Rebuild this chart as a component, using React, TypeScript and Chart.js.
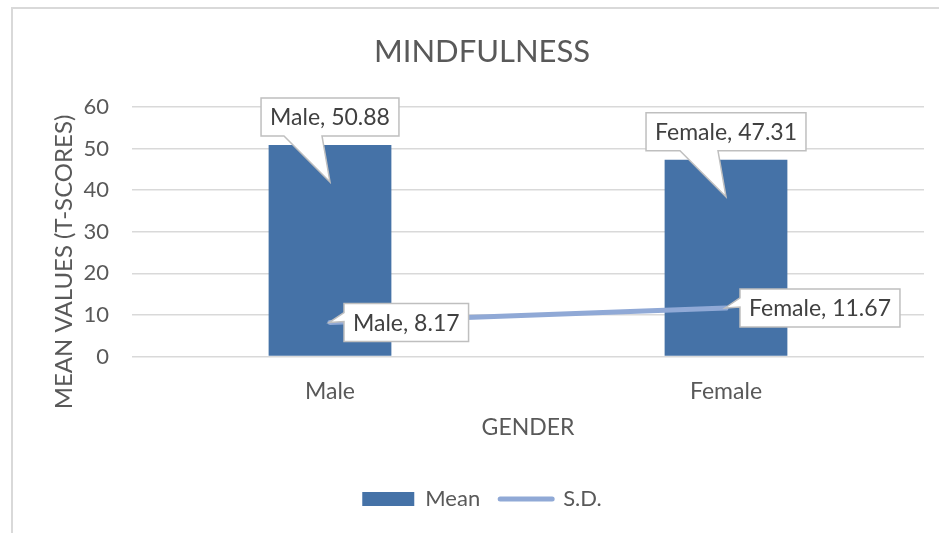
import React, { useEffect, useRef } from "react";
import { Chart, registerables } from "chart.js";

Chart.register(...registerables);

const chartTitle = "MINDFULNESS";
const xAxisTitle = "GENDER";
const yAxisTitle = "MEAN VALUES (T-SCORES)";
const categories = ["Male", "Female"];
const seriesNames = ["Mean", "S.D."];
const meanValues = [50.88, 47.31];
const sdValues = [8.17, 11.67];
const yMin = 0;
const yMax = 60;
const yStep = 10;

const FONT = "Lato, 'Open Sans', sans-serif";
const BAR_COLOR = "#4572a7";
const LINE_COLOR = "#90a9d6";
const GRID_COLOR = "#d9d9d9";
const TEXT_COLOR = "#595959";
const LABEL_COLOR = "#404040";

const calloutPlugin = {
  id: "callouts",
  afterDatasetsDraw(chart: any) {
    const ctx = chart.ctx;
    ctx.save();
    ctx.font = `23px ${FONT}`;
    const boxH = 38;
    const padX = 9;
    const drawBox = (pts: number[][]) => {
      ctx.beginPath();
      ctx.moveTo(pts[0][0], pts[0][1]);
      for (let i = 1; i < pts.length; i++) ctx.lineTo(pts[i][0], pts[i][1]);
      ctx.closePath();
      ctx.fillStyle = "#ffffff";
      ctx.fill();
      ctx.lineWidth = 1.5;
      ctx.strokeStyle = "#bfbfbf";
      ctx.lineJoin = "miter";
      ctx.stroke();
    };
    const drawText = (t: string, cx: number, cy: number) => {
      ctx.fillStyle = LABEL_COLOR;
      ctx.textAlign = "center";
      ctx.textBaseline = "middle";
      ctx.fillText(t, cx, cy);
    };
    // Mean (bars): callout above with pointer into bar
    const barMeta = chart.getDatasetMeta(0);
    barMeta.data.forEach((el: any, i: number) => {
      const text = `${categories[i]}, ${meanValues[i].toFixed(2)}`;
      const w = ctx.measureText(text).width + padX * 2;
      const x = el.x;
      const y = el.y;
      const B = y - 9;
      const T = B - boxH;
      const L = x - w / 2;
      const R = x + w / 2;
      drawBox([
        [L, T],
        [R, T],
        [R, B],
        [x - 8, B],
        [x, y + 37],
        [x - 46, B],
        [L, B],
      ]);
      drawText(text, x, (T + B) / 2 + 1);
    });
    // S.D. (line): callout to the right with pointer on left
    const lineMeta = chart.getDatasetMeta(1);
    lineMeta.data.forEach((el: any, i: number) => {
      const text = `${categories[i]}, ${sdValues[i].toFixed(2)}`;
      const w = ctx.measureText(text).width + padX * 2;
      const x = el.x;
      const y = el.y;
      const L = x + 14;
      const R = L + w;
      const T = y - boxH / 2;
      const B = y + boxH / 2;
      drawBox([
        [L, T],
        [R, T],
        [R, B],
        [L, B],
        [L, y - 1],
        [x - 1, y],
        [L, y - 10],
      ]);
      drawText(text, (L + R) / 2, y + 1);
    });
    // Y axis title
    ctx.save();
    ctx.translate(64, 262);
    ctx.rotate(-Math.PI / 2);
    ctx.font = `24px ${FONT}`;
    ctx.fillStyle = TEXT_COLOR;
    ctx.textAlign = "center";
    ctx.textBaseline = "middle";
    ctx.fillText(yAxisTitle, 0, 0);
    ctx.restore();
    ctx.restore();
  },
};

export default function App() {
  const ref = useRef<HTMLCanvasElement>(null);
  useEffect(() => {
    if (!ref.current) return;
    const chart = new Chart(ref.current, {
      type: "bar",
      data: {
        labels: categories,
        datasets: [
          {
            type: "bar",
            label: seriesNames[0],
            data: meanValues,
            backgroundColor: BAR_COLOR,
            borderWidth: 0,
            barPercentage: 0.31,
            categoryPercentage: 1,
            order: 2,
          },
          {
            type: "line",
            label: seriesNames[1],
            data: sdValues,
            borderColor: LINE_COLOR,
            backgroundColor: LINE_COLOR,
            borderWidth: 5,
            pointRadius: 0,
            borderCapStyle: "round",
            order: 1,
          } as any,
        ],
      },
      options: {
        responsive: false,
        animation: false,
        layout: { padding: { left: 40, right: 15, top: 0, bottom: 13 } },
        scales: {
          x: {
            grid: { display: false, drawTicks: false },
            border: { display: false },
            ticks: { color: TEXT_COLOR, font: { family: FONT, size: 23 }, padding: 21 },
            title: {
              display: true,
              text: xAxisTitle,
              color: TEXT_COLOR,
              font: { family: FONT, size: 23 },
              padding: 27,
            },
            afterFit: (s: any) => {
              s.height = 111.5;
            },
          },
          y: {
            min: yMin,
            max: yMax,
            ticks: {
              stepSize: yStep,
              color: TEXT_COLOR,
              font: { family: FONT, size: 22 },
              padding: 23,
            },
            grid: { color: GRID_COLOR, lineWidth: 1.5, drawTicks: false },
            border: { display: false },
            afterFit: (s: any) => {
              s.width = 92;
            },
          },
        },
        plugins: {
          title: {
            display: true,
            text: chartTitle,
            color: TEXT_COLOR,
            font: { family: FONT, size: 31, weight: "normal" },
            padding: { top: 33.5, bottom: 36.3 },
          },
          legend: {
            position: "bottom",
            labels: {
              color: TEXT_COLOR,
              font: { family: FONT, size: 22 },
              usePointStyle: true,
              pointStyleWidth: 52,
              boxHeight: 14,
              padding: 20,
              generateLabels: () => [
                {
                  text: seriesNames[0],
                  fillStyle: BAR_COLOR,
                  strokeStyle: BAR_COLOR,
                  lineWidth: 0,
                  pointStyle: "rect",
                  datasetIndex: 0,
                  fontColor: TEXT_COLOR,
                } as any,
                {
                  text: seriesNames[1],
                  fillStyle: LINE_COLOR,
                  strokeStyle: LINE_COLOR,
                  lineWidth: 5,
                  lineCap: "round",
                  pointStyle: "line",
                  datasetIndex: 1,
                  fontColor: TEXT_COLOR,
                } as any,
              ],
            },
          },
          tooltip: { enabled: false },
        },
      },
      plugins: [calloutPlugin],
    });
    return () => chart.destroy();
  }, []);
  return (
    <div style={{ position: "fixed", left: 0, top: 0, width: 939, height: 533, background: "#fff", overflow: "hidden" }}>
      <div
        style={{
          position: "absolute",
          left: 11,
          top: 7,
          width: 1000,
          height: 600,
          border: "2px solid #d9d9d9",
        }}
      />
      <canvas ref={ref} width={939} height={533} style={{ position: "absolute", left: 0, top: 0 }} />
    </div>
  );
}
